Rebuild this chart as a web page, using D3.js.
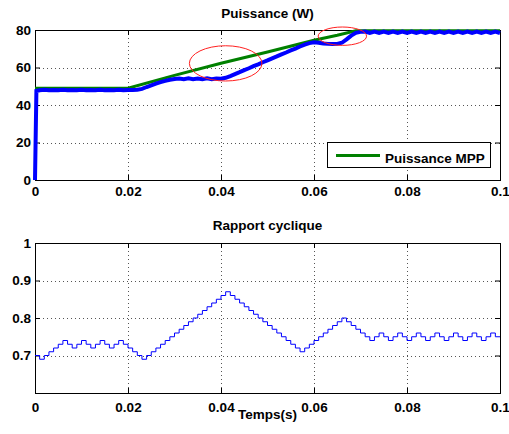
<!DOCTYPE html>
<html>
<head>
<meta charset="utf-8">
<script src="https://cdn.jsdelivr.net/npm/d3@7"></script>
<style>
body { margin: 0; background: #fff; }
text { font-family: "Liberation Sans", Arial, Helvetica, sans-serif; font-weight: bold; font-size: 13.5px; fill: #000; }
</style>
</head>
<body>
<div id="chart"></div>
<script>
// Axis ticks
const xTicks = [0, 0.02, 0.04, 0.06, 0.08, 0.1];
const xTickLabels = ["0", "0.02", "0.04", "0.06", "0.08", "0.1"];
const powerTicks = [0, 20, 40, 60, 80];
const dutyTicks = [0.7, 0.8, 0.9, 1];
const dutyTickLabels = ["0.7", "0.8", "0.9", "1"];

// Puissance MPP (green)
const mppTime = [0, 0.02, 0.03, 0.04, 0.05, 0.06, 0.065, 0.069, 0.1];
const mppPower = [49, 49, 55.8, 62.3, 68.3, 74.5, 77.2, 79.6, 79.6];

// Measured power (blue): start-up then one sample per ms (0.001 .. 0.1)
const startupTime = [0, 0.0003];
const startupPower = [0, 47.5];
const sampleStep = 0.001;
const power = [
  47.9, 48.1, 47.9, 48.0, 47.9, 48.1, 47.9, 48.0, 47.9, 48.1,
  47.9, 48.0, 47.9, 48.1, 47.9, 48.0, 47.9, 48.1, 47.9,
  48.0, 48.0, 48.1,
  48.6, 49.6, 50.5, 51.4, 52.2, 52.9, 53.5, 53.9, 54.1,
  53.8, 54.2, 53.8, 54.1, 53.8, 54.2, 53.8, 54.1, 54.0, 54.5,
  55.4, 56.5, 57.5, 58.6, 59.6, 60.7, 61.7, 62.8, 63.8, 64.9,
  65.9, 67.0, 68.0, 69.1, 70.1, 71.2, 72.2, 73.0,
  73.4, 73.2, 72.8, 72.6, 72.5, 72.6, 73.2,
  75.0, 77.0, 78.5, 79.0,
  79.2, 78.4, 79.2, 78.4, 79.2, 78.4, 79.2, 78.4, 79.2, 78.4,
  79.2, 78.4, 79.2, 78.4, 79.2, 78.4, 79.2, 78.4, 79.2, 78.4,
  79.2, 78.4, 79.2, 78.4, 79.2, 78.4, 79.2, 78.4, 79.2, 78.4
];

// Rapport cyclique, one value per ms (0 .. 0.099)
const dutyCycle = [
  0.70, 0.69, 0.70, 0.71, 0.72, 0.73, 0.74, 0.73, 0.72, 0.73,
  0.74, 0.73, 0.72, 0.73, 0.74, 0.73, 0.72, 0.73, 0.74, 0.73,
  0.72, 0.71, 0.70, 0.69,
  0.70, 0.71, 0.72, 0.73, 0.74, 0.75, 0.76, 0.77, 0.78, 0.79,
  0.80, 0.81, 0.82, 0.83, 0.84, 0.85, 0.86, 0.87,
  0.86, 0.85, 0.84, 0.83, 0.82, 0.81, 0.80, 0.79, 0.78, 0.77,
  0.76, 0.75, 0.74, 0.73, 0.72, 0.71,
  0.72, 0.73, 0.74, 0.75, 0.76, 0.77, 0.78, 0.79, 0.80,
  0.79, 0.78, 0.77, 0.76, 0.75, 0.74,
  0.75, 0.76, 0.75, 0.74, 0.75, 0.76, 0.75, 0.74, 0.75, 0.76,
  0.75, 0.74, 0.75, 0.76, 0.75, 0.74, 0.75, 0.76, 0.75, 0.74,
  0.75, 0.76, 0.75, 0.74, 0.75, 0.76, 0.75
];

// Red highlight ellipses (data units)
const ellipseCx = [0.041, 0.0661];
const ellipseCy = [62.2, 76.7];
const ellipseRx = [0.0078, 0.0052];
const ellipseRy = [9.4, 4.9];

// Layout
const width = 509, height = 434;
const left = 35, right = 500;
const topPanel = {top: 30, bottom: 180};
const botPanel = {top: 243, bottom: 393};
const tickLen = 5;

const svg = d3.select("#chart").append("svg")
    .attr("width", width)
    .attr("height", height);

const x = d3.scaleLinear().domain([0, 0.1]).range([left, right]);

// Draw one axes box with grid, ticks and labels
function drawAxes(yScale, yTicks, yLabels, p, xPad) {
    const g = svg.append("g");

    // dotted grid
    g.selectAll(".vgrid").data(xTicks.slice(1, -1)).join("line")
        .attr("x1", d => Math.round(x(d)) + 0.5).attr("x2", d => Math.round(x(d)) + 0.5)
        .attr("y1", p.top).attr("y2", p.bottom)
        .attr("stroke", "#555").attr("stroke-dasharray", "1,3");
    g.selectAll(".hgrid").data(yTicks.filter(d => Math.round(yScale(d)) > p.top && Math.round(yScale(d)) < p.bottom)).join("line")
        .attr("x1", left).attr("x2", right)
        .attr("y1", d => Math.round(yScale(d)) + 0.5).attr("y2", d => Math.round(yScale(d)) + 0.5)
        .attr("stroke", "#555").attr("stroke-dasharray", "1,3");

    const axB = g.append("g").attr("transform", `translate(0,${p.bottom})`)
        .call(d3.axisBottom(x).tickValues(xTicks).tickFormat((d, i) => xTickLabels[i])
            .tickSize(-tickLen).tickPadding(xPad));
    const axT = g.append("g").attr("transform", `translate(0,${p.top})`)
        .call(d3.axisTop(x).tickValues(xTicks).tickFormat("").tickSize(-tickLen));
    const axL = g.append("g").attr("transform", `translate(${left},0)`)
        .call(d3.axisLeft(yScale).tickValues(yTicks).tickFormat((d, i) => yLabels[i])
            .tickSize(-tickLen).tickPadding(4));
    const axR = g.append("g").attr("transform", `translate(${right},0)`)
        .call(d3.axisRight(yScale).tickValues(yTicks).tickFormat("").tickSize(-tickLen));

    [axB, axT, axL, axR].forEach(a => {
        a.select(".domain").remove();
        a.selectAll("text").attr("font-size", null).attr("font-family", null);
        a.attr("font-size", null).attr("font-family", null);
    });

    g.append("rect")
        .attr("x", left + 0.5).attr("y", p.top + 0.5)
        .attr("width", right - left).attr("height", p.bottom - p.top)
        .attr("fill", "none").attr("stroke", "#000");
}

// ---------- Top panel: Puissance ----------
const yP = d3.scaleLinear().domain([0, 80]).range([topPanel.bottom, topPanel.top]);
drawAxes(yP, powerTicks, powerTicks.map(String), topPanel, 6);

const mppData = mppTime.map((t, i) => [t, mppPower[i]]);
const powerData = startupTime.map((t, i) => [t, startupPower[i]])
    .concat(power.map((v, i) => [(i + 1) * sampleStep, v]));

const lineP = d3.line().x(d => x(d[0])).y(d => yP(d[1]));

svg.append("path").datum(mppData)
    .attr("d", lineP)
    .attr("fill", "none").attr("stroke", "#008000").attr("stroke-width", 3);

svg.append("path").datum(powerData)
    .attr("d", lineP)
    .attr("fill", "none").attr("stroke", "#0000ff").attr("stroke-width", 4)
    .attr("stroke-linejoin", "miter");

// red ellipses
svg.selectAll(".hl").data(ellipseCx).join("ellipse")
    .attr("cx", d => x(d))
    .attr("cy", (d, i) => yP(ellipseCy[i]))
    .attr("rx", (d, i) => x(d + ellipseRx[i]) - x(d))
    .attr("ry", (d, i) => yP(ellipseCy[i] - ellipseRy[i]) - yP(ellipseCy[i]))
    .attr("fill", "none").attr("stroke", "#ff2020").attr("stroke-width", 1);

// legend
const leg = svg.append("g");
leg.append("rect")
    .attr("x", 327.5).attr("y", 142.5).attr("width", 163).attr("height", 25)
    .attr("fill", "#fff").attr("stroke", "#000");
leg.append("line")
    .attr("x1", 336).attr("x2", 380).attr("y1", 155.5).attr("y2", 155.5)
    .attr("stroke", "#008000").attr("stroke-width", 3);
leg.append("text").attr("x", 385).attr("y", 162.5).text("Puissance MPP");

svg.append("text").attr("x", (left + right) / 2).attr("y", 17.7)
    .attr("text-anchor", "middle").text("Puissance (W)");

// ---------- Bottom panel: Rapport cyclique ----------
const yD = d3.scaleLinear().domain([0.6, 1]).range([botPanel.bottom, botPanel.top]);
drawAxes(yD, dutyTicks, dutyTickLabels, botPanel, 9);

const dutyData = dutyCycle.map((v, i) => [i * sampleStep, v]);
dutyData.push([0.1, dutyCycle[dutyCycle.length - 1]]);

svg.append("path").datum(dutyData)
    .attr("d", d3.line().curve(d3.curveStepAfter).x(d => x(d[0])).y(d => yD(d[1])))
    .attr("fill", "none").attr("stroke", "#0000ff").attr("stroke-width", 1);

svg.append("text").attr("x", (left + right) / 2).attr("y", 230.4)
    .attr("text-anchor", "middle").text("Rapport cyclique");
svg.append("text").attr("x", (left + right) / 2).attr("y", 419)
    .attr("text-anchor", "middle").text("Temps(s)");
</script>
</body>
</html>
